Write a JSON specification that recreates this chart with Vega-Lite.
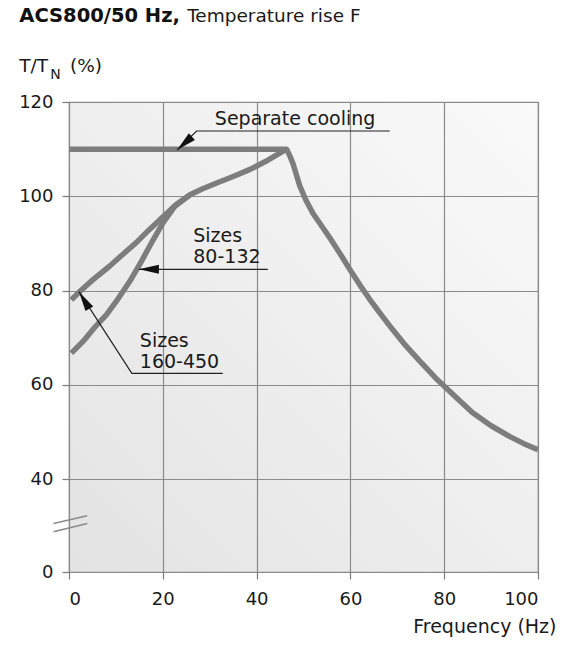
{
  "$schema": "https://vega.github.io/schema/vega-lite/v6.json",
  "width": 469,
  "height": 470,
  "autosize": "none",
  "padding": {"left": 69, "top": 102, "right": 30, "bottom": 74},
  "background": "white",
  "config": {
    "font": "DejaVu Sans",
    "view": {
      "stroke": "#8a8a8a",
      "strokeWidth": 1.2,
      "fill": {"gradient": "linear", "x1": 0, "y1": 1, "x2": 1, "y2": 0, "stops": [{"offset": 0, "color": "#e3e3e3"}, {"offset": 1, "color": "#fafafa"}]}
    }
  },
  "datasets": {
    "curves": [
      {"series": "Separate cooling", "x": 0, "y": 110},
      {"series": "Separate cooling", "x": 46.4, "y": 110},
      {"series": "Separate cooling", "x": 47.2, "y": 108.3},
      {"series": "Separate cooling", "x": 47.8, "y": 106.8},
      {"series": "Separate cooling", "x": 48.5, "y": 104.5},
      {"series": "Separate cooling", "x": 49.2, "y": 102.2},
      {"series": "Separate cooling", "x": 50.5, "y": 99.2},
      {"series": "Separate cooling", "x": 52, "y": 96.4},
      {"series": "Separate cooling", "x": 53.8, "y": 93.8},
      {"series": "Separate cooling", "x": 55.6, "y": 91.2},
      {"series": "Separate cooling", "x": 58, "y": 87.5},
      {"series": "Separate cooling", "x": 60.3, "y": 83.8},
      {"series": "Separate cooling", "x": 62, "y": 81.2},
      {"series": "Separate cooling", "x": 64, "y": 78.3},
      {"series": "Separate cooling", "x": 66.3, "y": 75.2},
      {"series": "Separate cooling", "x": 69, "y": 71.7},
      {"series": "Separate cooling", "x": 71.8, "y": 68.3},
      {"series": "Separate cooling", "x": 75, "y": 64.8},
      {"series": "Separate cooling", "x": 78.5, "y": 61.1},
      {"series": "Separate cooling", "x": 82, "y": 57.8},
      {"series": "Separate cooling", "x": 86, "y": 54.1},
      {"series": "Separate cooling", "x": 90, "y": 51.3},
      {"series": "Separate cooling", "x": 94, "y": 49},
      {"series": "Separate cooling", "x": 97, "y": 47.5},
      {"series": "Separate cooling", "x": 100, "y": 46.2},
      {"series": "Sizes 160-450", "x": 0.5, "y": 78},
      {"series": "Sizes 160-450", "x": 2.3, "y": 79.8},
      {"series": "Sizes 160-450", "x": 5, "y": 82.2},
      {"series": "Sizes 160-450", "x": 8.7, "y": 85.2},
      {"series": "Sizes 160-450", "x": 11.5, "y": 87.7},
      {"series": "Sizes 160-450", "x": 14.4, "y": 90.2},
      {"series": "Sizes 160-450", "x": 17, "y": 92.8},
      {"series": "Sizes 160-450", "x": 20, "y": 95.6},
      {"series": "Sizes 160-450", "x": 22.8, "y": 98.2},
      {"series": "Sizes 160-450", "x": 25.8, "y": 100.3},
      {"series": "Sizes 160-450", "x": 28.5, "y": 101.6},
      {"series": "Sizes 160-450", "x": 31.5, "y": 102.8},
      {"series": "Sizes 160-450", "x": 35, "y": 104.2},
      {"series": "Sizes 160-450", "x": 38.6, "y": 105.7},
      {"series": "Sizes 160-450", "x": 42.5, "y": 107.7},
      {"series": "Sizes 160-450", "x": 46.4, "y": 110},
      {"series": "Sizes 80-132", "x": 0.5, "y": 66.7},
      {"series": "Sizes 80-132", "x": 3, "y": 69.2},
      {"series": "Sizes 80-132", "x": 5.5, "y": 72.2},
      {"series": "Sizes 80-132", "x": 8, "y": 74.9},
      {"series": "Sizes 80-132", "x": 10.5, "y": 78.3},
      {"series": "Sizes 80-132", "x": 13, "y": 82},
      {"series": "Sizes 80-132", "x": 15.5, "y": 86.3},
      {"series": "Sizes 80-132", "x": 17.8, "y": 90.5},
      {"series": "Sizes 80-132", "x": 20, "y": 94.3},
      {"series": "Sizes 80-132", "x": 22.5, "y": 97.8},
      {"series": "Sizes 80-132", "x": 25.8, "y": 100.3}
    ],
    "leaders": [
      {"id": "sep", "x": 23.03, "y": 109.8},
      {"id": "sep", "x": 27.2, "y": 113.85},
      {"id": "sep", "x": 68.4, "y": 113.85},
      {"id": "s80", "x": 14.9, "y": 84.5},
      {"id": "s80", "x": 42.4, "y": 84.5},
      {"id": "s160", "x": 2.13, "y": 79.75},
      {"id": "s160", "x": 13.4, "y": 62.4},
      {"id": "s160", "x": 32.8, "y": 62.4}
    ],
    "arrows": [
      {"x": 23.03, "y": 109.8, "dir": 228},
      {"x": 14.9, "y": 84.5, "dir": 270},
      {"x": 2.13, "y": 79.75, "dir": 328.7}
    ],
    "breaks": [
      {"x": -3.3, "y": 20.9, "x2": 3.9, "y2": 24.2},
      {"x": -3.3, "y": 17.3, "x2": 3.9, "y2": 20.9}
    ],
    "labels": [
      {"text": "Separate cooling", "x": 31.1, "y": 115.1},
      {"text": "Sizes\n80-132", "x": 26.5, "y": 90.36},
      {"text": "Sizes\n160-450", "x": 15.1, "y": 68.1}
    ],
    "heads": [
      {"text": "Temperature rise F", "x": 25.2, "y": 137.04},
      {"text": "T/T", "x": -10.6, "y": 126.4},
      {"text": "(%)", "x": 0.2, "y": 126.4}
    ],
    "boldhead": [
      {"text": "ACS800/50 Hz,", "x": -10.6, "y": 137.04}
    ],
    "subs": [
      {"text": "N", "x": -4.0, "y": 124.9}
    ]
  },
  "encoding": {
    "x": {
      "field": "x",
      "type": "quantitative",
      "scale": {"domain": [0, 100], "nice": false, "zero": false},
      "axis": {
        "values": [0, 20, 40, 60, 80, 100],
        "title": "Frequency (Hz)",
        "grid": true,
        "gridColor": "#8a8a8a",
        "gridWidth": 1.2,
        "domain": false,
        "tickSize": 7,
        "tickColor": "#7a7a7a",
        "tickWidth": 1.2,
        "labelFont": "DejaVu Sans",
        "labelFontSize": 18,
        "labelColor": "#1a1a1a",
        "labelPadding": 11,
        "titleFont": "DejaVu Sans",
        "titleFontSize": 19,
        "titleFontWeight": "normal",
        "titleColor": "#1a1a1a",
        "titleAnchor": "end",
        "titleAlign": "right",
        "titleBaseline": "alphabetic",
        "titleX": 487,
        "titleY": 60
      }
    },
    "y": {
      "field": "y",
      "type": "quantitative",
      "scale": {"domain": [0, 40, 120], "range": [470, 377, 0], "nice": false, "zero": false},
      "axis": {
        "values": [0, 40, 60, 80, 100, 120],
        "title": null,
        "grid": true,
        "gridColor": "#8a8a8a",
        "gridWidth": 1.2,
        "domain": false,
        "tickSize": 7,
        "tickColor": "#7a7a7a",
        "tickWidth": 1.2,
        "labelFont": "DejaVu Sans",
        "labelFontSize": 18,
        "labelColor": "#1a1a1a",
        "labelPadding": 9
      }
    }
  },
  "layer": [
    {
      "data": {"name": "curves"},
      "mark": {"type": "line", "color": "#7d7d7d", "strokeWidth": 5.5, "strokeCap": "butt", "strokeJoin": "round"},
      "encoding": {"detail": {"field": "series"}}
    },
    {
      "data": {"name": "leaders"},
      "mark": {"type": "line", "color": "#222222", "strokeWidth": 1.2},
      "encoding": {"detail": {"field": "id"}}
    },
    {
      "data": {"name": "arrows"},
      "mark": {"type": "point", "shape": "M0,0L0.45,2L-0.45,2Z", "filled": true, "color": "#111111", "opacity": 1, "size": 400},
      "encoding": {"angle": {"field": "dir", "type": "quantitative", "scale": null}}
    },
    {
      "data": {"name": "breaks"},
      "mark": {"type": "rule", "color": "#8a8a8a", "strokeWidth": 1.5},
      "encoding": {"x2": {"field": "x2"}, "y2": {"field": "y2"}}
    },
    {
      "data": {"name": "labels"},
      "mark": {"type": "text", "align": "left", "baseline": "alphabetic", "fontSize": 19, "lineBreak": "\n", "lineHeight": 21.6, "color": "#1a1a1a"},
      "encoding": {"text": {"field": "text"}}
    },
    {
      "data": {"name": "heads"},
      "mark": {"type": "text", "align": "left", "baseline": "alphabetic", "fontSize": 18.5, "color": "#1a1a1a"},
      "encoding": {"text": {"field": "text"}}
    },
    {
      "data": {"name": "boldhead"},
      "mark": {"type": "text", "align": "left", "baseline": "alphabetic", "fontSize": 19.5, "fontWeight": "bold", "color": "#111111"},
      "encoding": {"text": {"field": "text"}}
    },
    {
      "data": {"name": "subs"},
      "mark": {"type": "text", "align": "left", "baseline": "alphabetic", "fontSize": 14, "color": "#1a1a1a"},
      "encoding": {"text": {"field": "text"}}
    }
  ]
}
